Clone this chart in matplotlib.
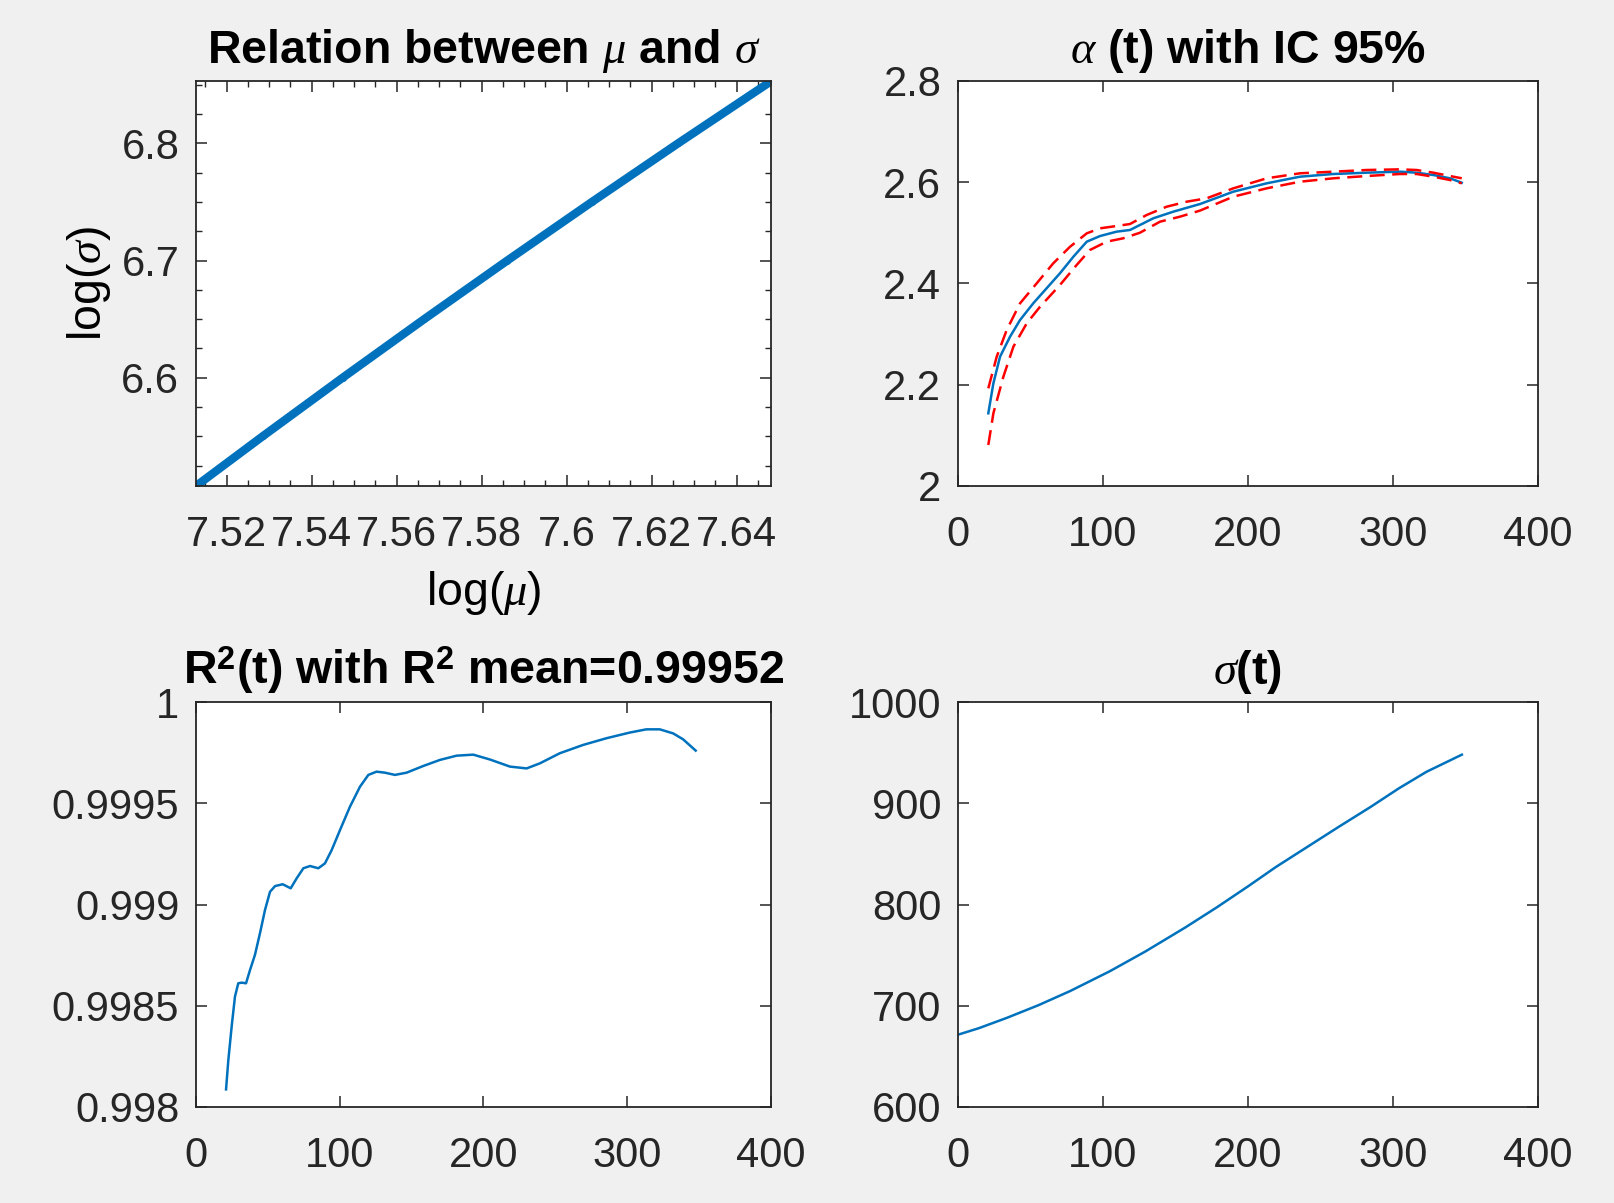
import matplotlib
matplotlib.use('Agg')
import matplotlib.pyplot as plt
from matplotlib.ticker import MultipleLocator, FixedLocator, FuncFormatter

plt.rcParams['font.family'] = ['Liberation Sans', 'DejaVu Sans']
plt.rcParams['mathtext.fontset'] = 'custom'
plt.rcParams['mathtext.rm'] = 'Liberation Sans'
plt.rcParams['mathtext.bf'] = 'Liberation Sans:bold'
plt.rcParams['mathtext.it'] = 'Liberation Serif:italic'

# ---------------- data ----------------
log_mu = [7.5128, 7.52845, 7.54729, 7.56649, 7.58605, 7.60597, 7.62626, 7.6482]
log_sigma = [6.5077, 6.5500, 6.6000, 6.6500, 6.7000, 6.7500, 6.8000, 6.8531]

t_alpha = [20.9, 24.4, 29.0, 35.9, 42.8, 51.9, 61.1, 70.3, 79.6, 88.8, 98.0, 109.4, 118.6,
           125.5, 134.7, 148.5, 166.9, 189.9, 212.9, 235.9, 258.9, 281.9, 304.8, 316.3,
           327.8, 339.3, 347.4]
alpha = [2.1436, 2.2029, 2.2555, 2.2950, 2.3279, 2.3609, 2.3905, 2.4201, 2.4530, 2.4826,
         2.4938, 2.5024, 2.5057, 2.5156, 2.5288, 2.5419, 2.5570, 2.5814, 2.5979, 2.6110,
         2.6163, 2.6189, 2.6209, 2.6189, 2.6143, 2.6078, 2.5991]

t_up = [20.9, 26.7, 33.6, 42.8, 54.3, 65.7, 77.3, 88.8, 98.0, 109.4, 118.6, 130.1, 143.9,
        157.7, 171.5, 189.9, 212.9, 235.9, 258.9, 281.9, 304.8, 316.3, 327.8, 339.3, 347.4]
alpha_up = [2.1929, 2.2555, 2.3082, 2.3609, 2.4004, 2.4399, 2.4727, 2.4991, 2.5090, 2.5136,
            2.5175, 2.5353, 2.5517, 2.5616, 2.5683, 2.5880, 2.6078, 2.6177, 2.6209, 2.6242,
            2.6255, 2.6242, 2.6189, 2.6123, 2.6078]

t_lo = [20.9, 24.4, 31.3, 38.2, 47.4, 56.6, 70.3, 81.8, 91.0, 102.5, 114.0, 125.5, 139.3,
        153.1, 166.9, 189.9, 212.9, 235.9, 258.9, 281.9, 304.8, 316.3, 327.8, 339.3, 347.4]
alpha_lo = [2.0810, 2.1436, 2.2160, 2.2752, 2.3213, 2.3542, 2.3970, 2.4365, 2.4662, 2.4826,
            2.4893, 2.5003, 2.5221, 2.5320, 2.5440, 2.5715, 2.5880, 2.6011, 2.6078, 2.6123,
            2.6163, 2.6163, 2.6110, 2.6044, 2.5979]

t_r2 = [20.9, 22.5, 24.8, 27.1, 29.4, 31.8, 34.8, 37.6, 41.0, 44.5, 48.0, 51.5, 55.0, 60.3,
        65.9, 70.0, 74.7, 79.3, 85.1, 89.7, 94.4, 100.2, 107.1, 114.1, 119.9, 125.6, 131.4,
        138.4, 146.5, 158.1, 169.7, 181.3, 192.9, 204.5, 218.4, 230.0, 239.2, 253.1, 269.3,
        285.5, 301.7, 313.3, 322.6, 331.9, 338.8, 347.6]
r2 = [0.998087, 0.998232, 0.998397, 0.998545, 0.998611, 0.998614, 0.998611, 0.998677,
      0.998751, 0.998858, 0.998973, 0.999063, 0.999091, 0.999100, 0.999080, 0.999129,
      0.999179, 0.999190, 0.999179, 0.999203, 0.999269, 0.999368, 0.999483, 0.999582,
      0.999640, 0.999656, 0.999651, 0.999640, 0.999651, 0.999684, 0.999714, 0.999735,
      0.999740, 0.999716, 0.999681, 0.999672, 0.999697, 0.999747, 0.999788, 0.999821,
      0.999849, 0.999865, 0.999865, 0.999845, 0.999816, 0.999760]

t_sig = [0, 14.5, 33.6, 55.4, 77.3, 104.6, 129.1, 156.4, 178.3, 200.1, 219.2, 246.5, 262.9,
         284.7, 303.8, 323.0, 347.5]
sigma_t = [671.4, 677.9, 688.0, 700.5, 714.5, 734.0, 753.5, 777.0, 797.0, 818.0, 837.0,
           862.0, 877.0, 896.5, 914.5, 931.0, 948.0]

# ---------------- figure ----------------
W, H = 1615, 1203
fig = plt.figure(figsize=(W / 100, H / 100), dpi=100, facecolor='#f0f0f0')

def pos(l, t, r, b):
    return [l / W, 1 - b / H, (r - l) / W, (b - t) / H]

ax1 = fig.add_axes(pos(196, 81, 771, 486))
ax2 = fig.add_axes(pos(958, 81, 1538, 486))
ax3 = fig.add_axes(pos(196, 702, 771, 1107))
ax4 = fig.add_axes(pos(958, 702, 1538, 1107))

LS = 30
TS = 33.5
fmt = FuncFormatter(lambda v, p: '%g' % round(v, 6))

def style(ax):
    ax.set_facecolor('white')
    for s in ax.spines.values():
        s.set_color('#262626')
        s.set_linewidth(1.3)
    ax.tick_params(which='major', direction='in', top=True, right=True, length=8, width=1.1,
                   color='#262626', labelcolor='#262626', labelsize=LS)
    ax.tick_params(which='minor', direction='in', top=True, right=True, length=4.5, width=1.0,
                   color='#262626')
    ax.tick_params(axis='x', pad=21)
    ax.tick_params(axis='y', pad=12)
    ax.xaxis.set_major_formatter(fmt)
    ax.yaxis.set_major_formatter(fmt)

for ax in (ax1, ax2, ax3, ax4):
    style(ax)

blue = '#0072BD'

# top-left
ax1.plot(log_mu, log_sigma, '.-', color=blue, lw=6, ms=8)
ax1.set_xlim(7.5128, 7.6481)
ax1.set_ylim(6.5077, 6.8531)
ax1.xaxis.set_major_locator(MultipleLocator(0.02))
ax1.xaxis.set_minor_locator(MultipleLocator(0.005))
ax1.yaxis.set_major_locator(MultipleLocator(0.1))
ax1.yaxis.set_minor_locator(MultipleLocator(0.025))
ax1.set_xlabel(r'log($\mu$)', fontsize=TS, labelpad=10)
ax1.set_ylabel(r'log($\sigma$)', fontsize=TS, labelpad=6)
ax1.set_title(r'Relation between $\mu$ and $\sigma$', fontsize=TS, fontweight='bold', pad=13)

# top-right
ax2.plot(t_alpha, alpha, color=blue, lw=1.8)
ax2.plot(t_up, alpha_up, '--', color='#ff0000', lw=1.8, dashes=(6, 3))
ax2.plot(t_lo, alpha_lo, '--', color='#ff0000', lw=1.8, dashes=(6, 3))
ax2.set_xlim(0, 400)
ax2.set_ylim(2, 2.8)
ax2.xaxis.set_major_locator(MultipleLocator(100))
ax2.yaxis.set_major_locator(MultipleLocator(0.2))
ax2.set_title(r'$\alpha$ (t) with IC 95%', fontsize=TS, fontweight='bold', pad=13)

# bottom-left
ax3.plot(t_r2, r2, color=blue, lw=1.8)
ax3.set_xlim(0, 400)
ax3.set_ylim(0.998, 1.0)
ax3.xaxis.set_major_locator(MultipleLocator(100))
ax3.yaxis.set_major_locator(FixedLocator([0.998, 0.9985, 0.999, 0.9995, 1.0]))
ax3.set_title(r'R$^{\mathbf{2}}$(t) with R$^{\mathbf{2}}$ mean=0.99952', fontsize=TS,
              fontweight='bold', pad=13)

# bottom-right
ax4.plot(t_sig, sigma_t, color=blue, lw=1.8)
ax4.set_xlim(0, 400)
ax4.set_ylim(600, 1000)
ax4.xaxis.set_major_locator(MultipleLocator(100))
ax4.yaxis.set_major_locator(MultipleLocator(100))
ax4.set_title(r'$\sigma$(t)', fontsize=TS, fontweight='bold', pad=13)

fig.savefig('out.png', dpi=100, facecolor=fig.get_facecolor())
